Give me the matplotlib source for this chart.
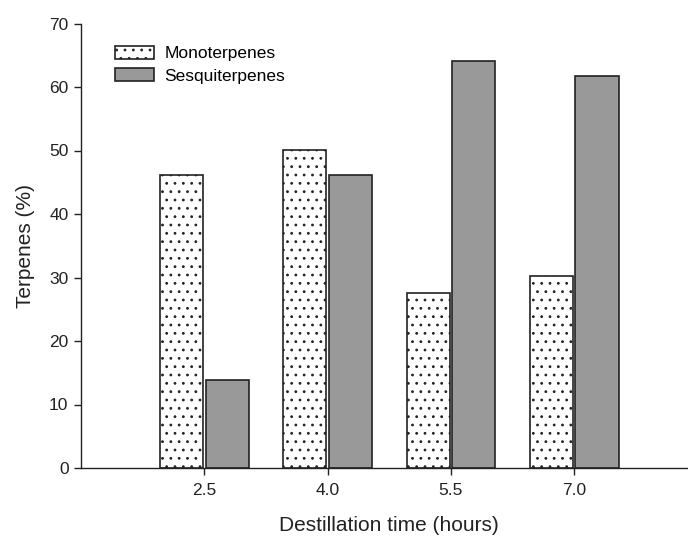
import numpy as np
import matplotlib.pyplot as plt

plt.rcParams['font.family'] = ['Liberation Sans', 'DejaVu Sans']
plt.rcParams['hatch.linewidth'] = 0.8
plt.rcParams['hatch.color'] = '#333333'

# data
times = ["2.5", "4.0", "5.5", "7.0"]
monoterpenes = [46.1, 50.1, 27.6, 30.2]
sesquiterpenes = [13.9, 46.1, 64.1, 61.7]

x = np.arange(len(times))
width = 0.35
offset = 0.185

fig = plt.figure(figsize=(6.88, 5.41), dpi=100)
ax = fig.add_axes([81 / 688, 1 - 468 / 541, 616.5 / 688, 444.5 / 541])

ax.bar(x - offset, monoterpenes, width, facecolor="white", edgecolor="#222222",
       hatch="..", linewidth=1.2, label="Monoterpenes")
ax.bar(x + offset, sesquiterpenes, width, facecolor="#999999", edgecolor="#222222",
       linewidth=1.2, label="Sesquiterpenes")

ax.set_xlim(-1, 4)
ax.set_ylim(0, 70)
ax.set_xticks(x)
ax.set_xticklabels(times)
ax.set_yticks(np.arange(0, 71, 10))

for side in ["top", "right"]:
    ax.spines[side].set_visible(False)
for side in ["left", "bottom"]:
    ax.spines[side].set_linewidth(1.0)
    ax.spines[side].set_color("#222222")

ax.tick_params(axis="both", direction="out", length=5, width=1.0,
               labelsize=12.5, colors="#222222")
ax.tick_params(axis="x", pad=6)
ax.tick_params(axis="y", pad=4)

ax.set_xlabel("Destillation time (hours)", fontsize=15, labelpad=13, color="#222222")
ax.set_ylabel("Terpenes (%)", fontsize=15, labelpad=10, color="#222222")

ax.legend(loc="upper left", bbox_to_anchor=(0.03, 0.985), frameon=False,
          fontsize=12.5, handlelength=2.25, handleheight=0.75, handletextpad=0.6,
          labelspacing=0.4)

fig.savefig("out.png", dpi=100)
